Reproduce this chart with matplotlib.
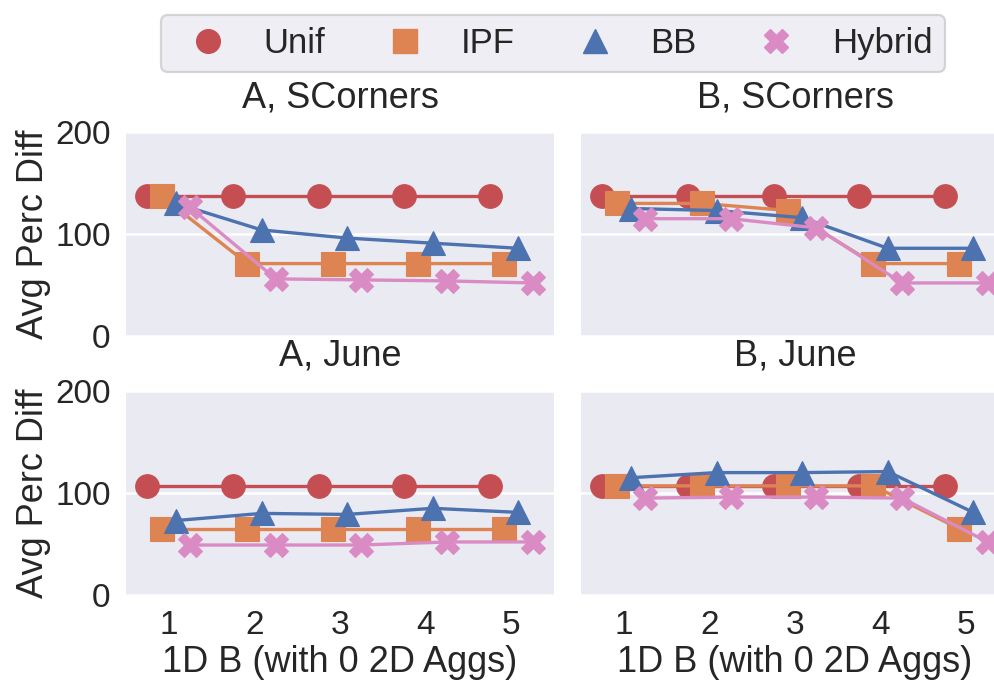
import numpy as np
import matplotlib
matplotlib.use("Agg")
import matplotlib.pyplot as plt
from matplotlib.lines import Line2D

plt.rcParams['font.family'] = ['Liberation Sans', 'DejaVu Sans']

categories = ['1', '2', '3', '4', '5']
methods = ['Unif', 'IPF', 'BB', 'Hybrid']
colors = ['#C44E52', '#DD8452', '#4C72B0', '#DA8BC3']
markers = ['o', 's', '^', 'X']

titles = ['A, SCorners', 'B, SCorners', 'A, June', 'B, June']

a_scorners_unif = [137, 137, 137, 137, 137]
a_scorners_ipf = [137, 71, 71, 71, 71]
a_scorners_bb = [130, 104, 96, 91, 86]
a_scorners_hybrid = [126, 56, 55, 54, 52]

b_scorners_unif = [137, 137, 137, 137, 137]
b_scorners_ipf = [130, 130, 123, 71, 71]
b_scorners_bb = [125, 123, 116, 86, 86]
b_scorners_hybrid = [115, 115, 106, 52, 52]

a_june_unif = [107, 107, 107, 107, 107]
a_june_ipf = [65, 65, 65, 65, 65]
a_june_bb = [73, 80, 79, 85, 81]
a_june_hybrid = [49, 49, 49, 52, 52]

b_june_unif = [107, 107, 107, 107, 107]
b_june_ipf = [107, 107, 107, 107, 65]
b_june_bb = [115, 120, 120, 121, 81]
b_june_hybrid = [95, 96, 96, 95, 52]

panels = [
    [a_scorners_unif, a_scorners_ipf, a_scorners_bb, a_scorners_hybrid],
    [b_scorners_unif, b_scorners_ipf, b_scorners_bb, b_scorners_hybrid],
    [a_june_unif, a_june_ipf, a_june_bb, a_june_hybrid],
    [b_june_unif, b_june_ipf, b_june_bb, b_june_hybrid],
]

W, H = 994, 682
fig = plt.figure(figsize=(W / 100, H / 100), dpi=100)

ax_w = 428 / W
ax_h = 204 / H
lefts = [126 / W, 581 / W]
bottoms = [1 - 336 / H, 1 - 595 / H]

dodge = 0.5
offsets = np.linspace(-dodge / 2, dodge / 2, len(methods))
xpos = np.arange(len(categories))

axes = []
for i, series in enumerate(panels):
    r, c = divmod(i, 2)
    ax = fig.add_axes([lefts[c], bottoms[r], ax_w, ax_h])
    ax.set_facecolor('#EAEAF2')
    for s in ax.spines.values():
        s.set_visible(False)
    ax.set_axisbelow(True)
    ax.grid(axis='y', color='white', linewidth=1.8)
    ax.grid(axis='x', visible=False)
    for j, vals in enumerate(series):
        ax.plot(xpos + offsets[j], vals, color=colors[j], marker=markers[j],
                markersize=17, linewidth=2.4, markeredgecolor=colors[j],
                markeredgewidth=0.8, clip_on=True)
    ax.set_xlim(-0.5, len(categories) - 0.5)
    ax.set_ylim(0, 200)
    ax.set_yticks([0, 100, 200])
    ax.set_xticks(xpos)
    ax.tick_params(length=0, labelsize=24, pad=11, colors='#262626')
    ax.set_title(titles[i], fontsize=26, pad=18, color='#262626')
    if c == 0:
        ax.set_ylabel('Avg Perc Diff', fontsize=26, labelpad=3, color='#262626')
    else:
        ax.set_yticklabels([])
    if r == 1:
        ax.set_xticklabels(categories)
        ax.set_xlabel('1D B (with 0 2D Aggs)', fontsize=26, labelpad=3, color='#262626')
    else:
        ax.set_xticklabels([])
    axes.append(ax)

handles = [Line2D([], [], color=colors[j], marker=markers[j], linestyle='none',
                  markersize=17, markeredgecolor=colors[j])
           for j in range(len(methods))]
leg = fig.legend(handles, methods, loc='center', bbox_to_anchor=(553 / W, 1 - 43.5 / H),
                 ncol=4, fontsize=25, frameon=True, fancybox=True, columnspacing=1.3,
                 handlelength=2.0, handletextpad=0.6, borderpad=0.35)
leg.get_frame().set_facecolor('#EAEAF2')
leg.get_frame().set_alpha(0.8)
leg.get_frame().set_edgecolor('0.8')
leg.get_frame().set_linewidth(1.6)
for t in leg.get_texts():
    t.set_color('#262626')

fig.savefig('out.png', dpi=100)
